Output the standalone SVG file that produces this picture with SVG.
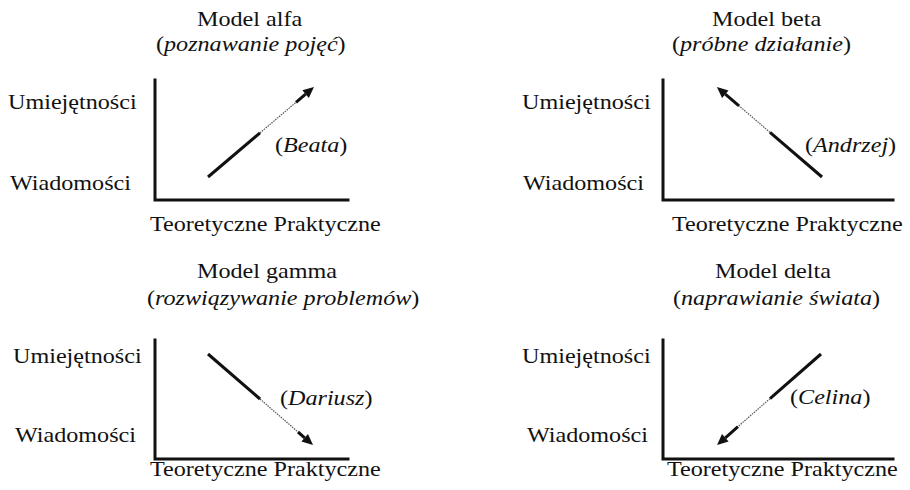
<svg xmlns="http://www.w3.org/2000/svg" width="910" height="490" viewBox="0 0 910 490">
<style>
  text { font-family: "Liberation Serif", "Times New Roman", serif; font-size: 21px; fill: #111; }
  .it { font-style: italic; }
  .axis { fill: none; stroke: #111; stroke-width: 3; stroke-linejoin: miter; stroke-linecap: square; }
  .thick { fill: none; stroke: #111; stroke-width: 3; stroke-linecap: butt; }
  .thin { fill: none; stroke: #555; stroke-width: 1.2; stroke-dasharray: 1.5 1; }
</style>
<defs>
  <marker id="head" markerUnits="userSpaceOnUse" markerWidth="12" markerHeight="10" refX="0" refY="5" orient="auto" overflow="visible">
    <path d="M0,0 L11,5 L0,10 z" fill="#111"/>
  </marker>
</defs>
<rect width="910" height="490" fill="#fff"/>

<g id="model-alfa">
  <text transform="translate(197,26) scale(1.15,1)">Model alfa</text>
  <text transform="translate(156,51) scale(1.15,1)">(<tspan class="it">poznawanie pojęć</tspan>)</text>
  <text transform="translate(8,109) scale(1.15,1)">Umiejętności</text>
  <text transform="translate(10,190) scale(1.15,1)">Wiadomości</text>
  <text transform="translate(150,231) scale(1.15,1)">Teoretyczne Praktyczne</text>
  <text transform="translate(275,152) scale(1.15,1)">(<tspan class="it">Beata</tspan>)</text>
  <polyline class="axis" points="155,80 155,200 348,200"/>
</g>

<g id="model-beta">
  <text transform="translate(712,26) scale(1.15,1)">Model beta</text>
  <text transform="translate(672,51) scale(1.15,1)">(<tspan class="it">próbne działanie</tspan>)</text>
  <text transform="translate(522,109) scale(1.15,1)">Umiejętności</text>
  <text transform="translate(523,190) scale(1.15,1)">Wiadomości</text>
  <text transform="translate(672,231) scale(1.15,1)">Teoretyczne Praktyczne</text>
  <text transform="translate(805,152) scale(1.15,1)">(<tspan class="it">Andrzej</tspan>)</text>
  <polyline class="axis" points="663,80 663,200 893,200"/>
</g>

<g id="model-gamma">
  <text transform="translate(197,278) scale(1.15,1)">Model gamma</text>
  <text transform="translate(147,305) scale(1.15,1)">(<tspan class="it">rozwiązywanie problemów</tspan>)</text>
  <text transform="translate(13,363) scale(1.15,1)">Umiejętności</text>
  <text transform="translate(15,442) scale(1.15,1)">Wiadomości</text>
  <text transform="translate(150,476) scale(1.15,1)">Teoretyczne Praktyczne</text>
  <text transform="translate(280,405) scale(1.15,1)">(<tspan class="it">Dariusz</tspan>)</text>
  <polyline class="axis" points="155,340 155,459 348,459"/>
</g>

<g id="model-delta">
  <text transform="translate(715,278) scale(1.15,1)">Model delta</text>
  <text transform="translate(673,305) scale(1.15,1)">(<tspan class="it">naprawianie świata</tspan>)</text>
  <text transform="translate(522,363) scale(1.15,1)">Umiejętności</text>
  <text transform="translate(527,442) scale(1.15,1)">Wiadomości</text>
  <text transform="translate(667,476) scale(1.15,1)">Teoretyczne Praktyczne</text>
  <text transform="translate(790,404) scale(1.15,1)">(<tspan class="it">Celina</tspan>)</text>
  <polyline class="axis" points="663,340 663,459 893,459"/>
</g>

<g id="connectors">
  <!-- alfa: up-right -->
  <line class="thick" x1="208" y1="177" x2="260" y2="132.9"/>
  <line class="thin" x1="260" y1="132.9" x2="296" y2="102.3"/>
  <line class="thick" x1="296" y1="102.3" x2="305.6" y2="94.1" marker-end="url(#head)"/>
  <!-- beta: up-left -->
  <line class="thick" x1="822" y1="177" x2="770" y2="132.4"/>
  <line class="thin" x1="770" y1="132.4" x2="739" y2="105.8"/>
  <line class="thick" x1="739" y1="105.8" x2="725.3" y2="94.2" marker-end="url(#head)"/>
  <!-- gamma: down-right -->
  <line class="thick" x1="208" y1="354" x2="260" y2="399"/>
  <line class="thin" x1="260" y1="399" x2="298" y2="432"/>
  <line class="thick" x1="298" y1="432" x2="304.7" y2="437.8" marker-end="url(#head)"/>
  <!-- delta: down-left -->
  <line class="thick" x1="821" y1="354" x2="770" y2="398.6"/>
  <line class="thin" x1="770" y1="398.6" x2="738" y2="426.6"/>
  <line class="thick" x1="738" y1="426.6" x2="725.3" y2="437.8" marker-end="url(#head)"/>
</g>
</svg>
